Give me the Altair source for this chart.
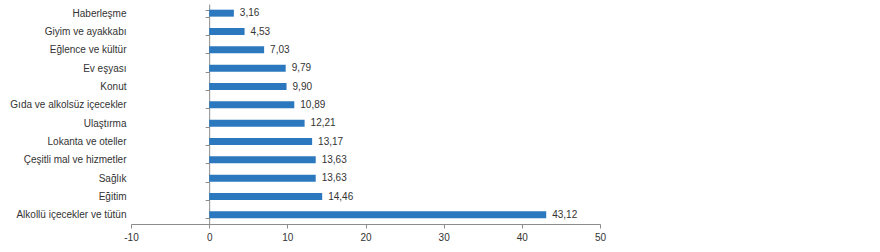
import altair as alt
import pandas as pd

categories = [
    "Haberleşme", "Giyim ve ayakkabı", "Eğlence ve kültür", "Ev eşyası", "Konut",
    "Gıda ve alkolsüz içecekler", "Ulaştırma", "Lokanta ve oteller",
    "Çeşitli mal ve hizmetler", "Sağlık", "Eğitim", "Alkollü içecekler ve tütün",
]
values = [3.16, 4.53, 7.03, 9.79, 9.90, 10.89, 12.21, 13.17, 13.63, 13.63, 14.46, 43.12]
x_ticks = [-10, 0, 10, 20, 30, 40, 50]

df = pd.DataFrame({"cat": categories, "val": values})
df["lbl"] = [f"{v:.2f}".replace(".", ",") for v in values]

W, H = 469, 220
FONT = "Liberation Sans"
GREY = "#8c8c8c"
zero_offset = -W * 10 / 60

x = alt.X("val:Q", scale=alt.Scale(domain=[-10, 50], nice=False, zero=False),
          axis=alt.Axis(values=x_ticks, title=None, grid=False, domainColor=GREY,
                        tickColor=GREY, tickSize=4, labelFont=FONT, labelFontSize=10,
                        labelColor="#333333", labelPadding=4, labelFlush=False,
                        labelExpr="'' + datum.value"))
y = alt.Y("cat:N", sort=categories,
          scale=alt.Scale(paddingInner=0.62, paddingOuter=0.31),
          axis=alt.Axis(title=None, offset=zero_offset, tickBand="extent",
                        domainColor=GREY, tickColor=GREY, tickSize=4,
                        labelPadding=-zero_offset + 1, labelFont=FONT,
                        labelFontSize=10, labelColor="#333333"))

bars = alt.Chart(df).mark_bar(color="#2B78BE").encode(x=x, y=y)
text = alt.Chart(df).mark_text(align="left", baseline="middle", dx=6, font=FONT,
                               fontSize=10, color="#333333").encode(
    x=alt.X("val:Q"), y=alt.Y("cat:N", sort=categories), text="lbl:N")

chart = (bars + text).properties(
    width=W, height=H,
    autosize=alt.AutoSizeParams(type="none"),
    padding={"left": 131, "top": 4, "right": 280, "bottom": 28},
).configure(background="white").configure_view(stroke=None)

chart.save("out.html", embed_options={"renderer": "svg", "actions": False})
